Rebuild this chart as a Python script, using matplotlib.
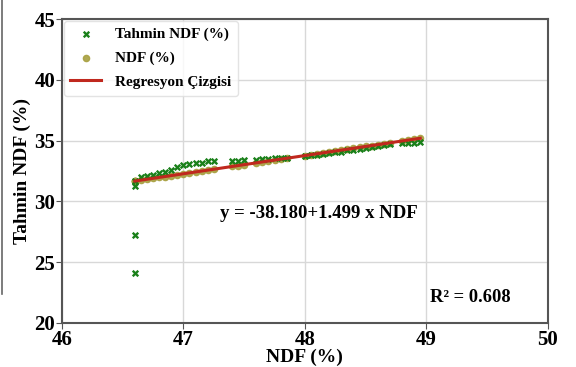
import matplotlib
matplotlib.use("Agg")
import matplotlib.pyplot as plt
from matplotlib.lines import Line2D
import numpy as np

plt.rcParams['font.family'] = ['Liberation Serif', 'DejaVu Serif']
plt.rcParams['font.weight'] = 'bold'

ndf = [46.6, 46.6, 46.6, 46.6, 46.65, 46.7, 46.75, 46.8, 46.85, 46.9, 46.95, 47.0,
       47.05, 47.1, 47.15, 47.2, 47.25, 47.4, 47.45, 47.5, 47.6, 47.65, 47.7,
       47.75, 47.8, 47.85, 48.0, 48.05, 48.1, 48.15, 48.2, 48.25, 48.3, 48.35,
       48.4, 48.45, 48.5, 48.55, 48.6, 48.65, 48.7, 48.8, 48.85, 48.9, 48.95]
tahmin = [31.3, 27.2, 24.1, 31.7, 32.0, 32.1, 32.2, 32.3, 32.4, 32.6, 32.8, 33.0,
          33.1, 33.2, 33.2, 33.3, 33.3, 33.3, 33.35, 33.4, 33.4, 33.45, 33.5,
          33.55, 33.6, 33.6, 33.7, 33.8, 33.85, 33.9, 34.0, 34.05, 34.1, 34.2,
          34.25, 34.35, 34.4, 34.5, 34.55, 34.6, 34.7, 34.8, 34.8, 34.8, 34.9]
intercept = -38.180
slope = 1.499
r2 = 0.608

x = np.array(ndf)
fit = intercept + slope * x

fig = plt.figure(figsize=(5.76, 3.67), dpi=100)
ax = fig.add_axes([0.1076, 0.12, 0.8434, 0.828])

ax.scatter(x, tahmin, marker='x', s=16, color='#1a801a', linewidths=1.7,
           label='Tahmin NDF (%)', zorder=3)
ax.scatter(x, fit, marker='o', s=20, color='#a8a040', alpha=0.9,
           label='NDF (%)', zorder=2)
order = np.argsort(x)
ax.plot(x[order], fit[order], color='#c0281e', linewidth=2.2,
        label='Regresyon Çizgisi', zorder=4)

ax.set_xlim(46, 50)
ax.set_ylim(20, 45)
ax.set_xticks([46, 47, 48, 49, 50])
ax.set_yticks([20, 25, 30, 35, 40, 45])
ax.grid(True, color='#d8d8d8', linewidth=1)
ax.set_axisbelow(True)
for s in ax.spines.values():
    s.set_color('#555555')
    s.set_linewidth(1.5)
ax.tick_params(labelsize=15, length=4, color='#555555', pad=1)
for lab in ax.get_xticklabels() + ax.get_yticklabels():
    lab.set_fontweight('bold')

ax.set_xlabel('NDF (%)', fontsize=14, fontweight='bold', labelpad=-1)
ax.set_ylabel('Tahmin NDF (%)', fontsize=14, fontweight='bold', labelpad=2)

ax.text(47.3, 29.0, f'y = {intercept:.3f}+{slope:.3f} x NDF', fontsize=13.5,
        fontweight='bold', va='center', ha='left')
ax.text(49.03, 22.1, f'R² = {r2:.3f}', fontsize=13.3, fontweight='bold',
        va='center', ha='left')

leg = ax.legend(loc='upper left', fontsize=11, frameon=True, borderaxespad=0.1,
                handlelength=2.0, handletextpad=0.9, labelspacing=0.65,
                borderpad=0.45)
leg.get_frame().set_edgecolor('#dddddd')
for t in leg.get_texts():
    t.set_fontweight('bold')

fig.add_artist(Line2D([0.004, 0.004], [0.2, 1.0], color='#666666', linewidth=1.2))

fig.savefig('out.png', dpi=100)
